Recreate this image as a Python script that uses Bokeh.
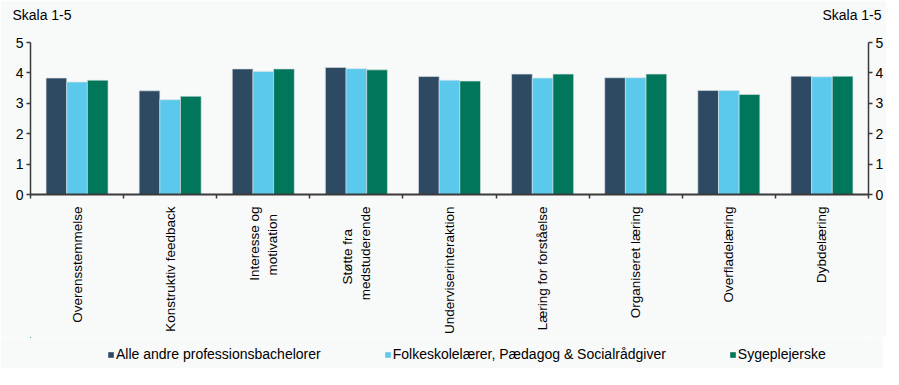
import numpy as np
from bokeh.plotting import figure
from bokeh.layouts import column
from bokeh.models import (Range1d, LinearAxis, FixedTicker, ColumnDataSource,
                          Legend, LegendItem)
from bokeh.transform import dodge
from bokeh.embed import file_html
from bokeh.resources import INLINE

NB = "\u00a0"
categories = ["Overensstemmelse", "Konstruktiv feedback", "Interesse og\nmotivation" + NB * 2,
              "Støtte fra" + NB * 6 + "\nmedstuderende", "Underviserinteraktion",
              "Læring for forståelse", "Organiseret læring", "Overfladelæring", "Dybdelæring"]
alle = [3.83, 3.41, 4.13, 4.18, 3.88, 3.96, 3.84, 3.42, 3.89]
folk = [3.70, 3.12, 4.05, 4.14, 3.76, 3.83, 3.84, 3.42, 3.87]
syg = [3.76, 3.23, 4.13, 4.10, 3.73, 3.96, 3.96, 3.29, 3.89]
series_names = ["Alle andre professionsbachelorer",
                "Folkeskolelærer, Pædagog & Socialrådgiver",
                "Sygeplejerske"]
colors = ["#2e4a63", "#5bc9ec", "#00765a"]
y_ticks = [0, 1, 2, 3, 4, 5]
y_unit = "Skala 1-5"

FONT = "Liberation Sans"
BG = "#f8f9f9"
AX = "#3a3a3a"

n = len(categories)
centers = list(np.arange(n) + 0.5)
bounds = list(np.arange(n + 1).astype(float))

src = ColumnDataSource(dict(x=centers, alle=alle, folk=folk, syg=syg))
keys = ["alle", "folk", "syg"]

FW = 838
p = figure(frame_width=FW, frame_height=152, output_backend="svg",
           toolbar_location=None, x_range=Range1d(0, n), y_range=Range1d(0, 5),
           x_axis_type=None, y_axis_type=None,
           min_border_left=30, min_border_right=15, min_border_top=42,
           min_border_bottom=0)
p.background_fill_color = BG
p.border_fill_color = BG
p.outline_line_color = None
p.grid.visible = False

bw = 0.222
for key, off, col in zip(keys, [-bw, 0.0, bw], colors):
    p.vbar(x=dodge("x", off), top=key, width=bw, bottom=0, source=src,
           fill_color=col, line_color="#dde4e8", line_width=0.6)

# "Skala 1-5" above both value axes
px_per_unit = FW / n
unit_pos = [11.5 / px_per_unit, (FW - 16.5) / px_per_unit]
ua = LinearAxis(ticker=FixedTicker(ticks=unit_pos, minor_ticks=[]))
ua.major_label_overrides = {v: y_unit for v in unit_pos}
ua.axis_line_color = None
ua.major_tick_line_color = None
ua.minor_tick_line_color = None
ua.major_label_standoff = 14
ua.major_label_text_font = FONT
ua.major_label_text_font_size = "14px"
ua.major_label_text_color = "#000000"
p.add_layout(ua, "above")

xa = LinearAxis(ticker=FixedTicker(ticks=centers, minor_ticks=bounds))
xa.major_label_overrides = {c: lab for c, lab in zip(centers, categories)}
xa.major_label_orientation = np.pi / 2
xa.major_tick_out = 0
xa.major_tick_in = 0
xa.minor_tick_out = 4
xa.minor_tick_in = 0
xa.minor_tick_line_color = AX
xa.minor_tick_line_width = 1.5
xa.axis_line_color = AX
xa.axis_line_width = 2
xa.major_label_standoff = 8
xa.major_label_text_font = FONT
xa.major_label_text_font_size = "13.5px"
xa.major_label_text_color = "#000000"
p.add_layout(xa, "below")

for side in ["left", "right"]:
    ya = LinearAxis(ticker=FixedTicker(ticks=y_ticks))
    ya.minor_tick_line_color = None
    ya.major_tick_out = 4
    ya.major_tick_in = 0
    ya.major_tick_line_color = AX
    ya.major_tick_line_width = 1.5
    ya.axis_line_color = AX
    ya.axis_line_width = 1.5
    ya.major_label_standoff = 3
    ya.major_label_text_font = FONT
    ya.major_label_text_font_size = "14px"
    ya.major_label_text_color = "#000000"
    p.add_layout(ya, side)

# legend strip below the chart (its bars lie far outside its visible ranges)
p2 = figure(width=883, height=31, output_backend="svg", toolbar_location=None,
            x_range=Range1d(100, 101), y_range=Range1d(-2, -1),
            x_axis_type=None, y_axis_type=None, min_border=0)
p2.background_fill_color = BG
p2.border_fill_color = BG
p2.outline_line_color = None
p2.grid.visible = False
items = []
for nm, key, col in zip(series_names, keys, colors):
    r = p2.vbar(x="x", top=key, width=bw, bottom=0, source=src,
                fill_color=col, line_color=None)
    items.append(LegendItem(label=nm, renderers=[r]))
legend = Legend(items=items, orientation="horizontal", location=(77, 6),
                glyph_width=7, glyph_height=7, label_standoff=2, spacing=63,
                label_text_font=FONT, label_text_font_size="14px",
                label_text_color="#000000", background_fill_alpha=0,
                border_line_color=None, padding=4, margin=0)
p2.add_layout(legend)

layout = column(p, p2, spacing=0)
open("out.html", "w").write(file_html(layout, INLINE))
